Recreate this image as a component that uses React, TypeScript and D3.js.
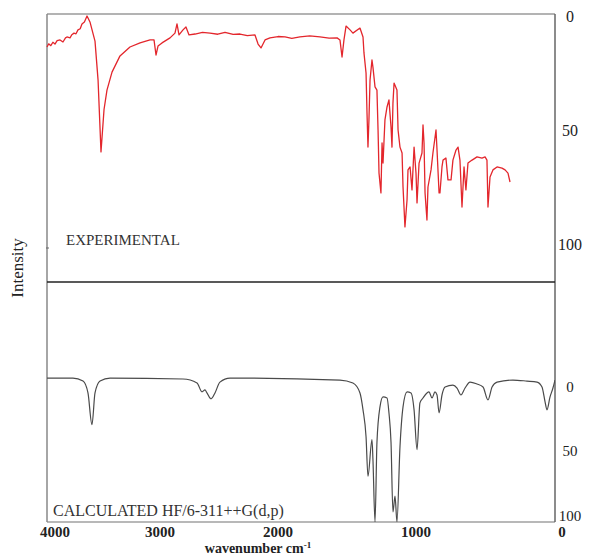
import React from "react";
import * as d3 from "d3";

// ---- data ----
const xTickValues = [4000, 3000, 2000, 1000, 0];
const expTickValues = [0, 50, 100];
const calcTickValues = [0, 50, 100];

const experimentalWavenumber = [
  4076, 4060, 4040, 4020, 4000, 3980, 3952, 3924, 3900, 3886, 3857, 3840, 3819, 3800, 3781, 3760, 3743, 3720, 3695,
  3667, 3619, 3590, 3562, 3533, 3505, 3457, 3381, 3286, 3190, 3095, 3057, 3038, 3019, 2983, 2915,
  2873, 2856, 2839, 2805, 2780, 2754, 2703, 2640, 2576, 2510, 2449, 2380, 2322, 2260, 2195, 2169, 2144,
  2110, 2068, 2000, 1949, 1900, 1841, 1770, 1696, 1630, 1572, 1551, 1536, 1522, 1507, 1478, 1457,
  1406, 1384, 1377, 1362, 1355, 1348, 1341, 1333, 1319, 1312, 1297, 1283, 1275, 1268, 1254, 1246,
  1239, 1225, 1210, 1196, 1181, 1174, 1167, 1159, 1138, 1130, 1116, 1101, 1094, 1080, 1065, 1058,
  1043, 1029, 1014, 1000, 993, 979, 959, 952, 945, 938, 925, 918, 897, 884, 863, 856, 842, 836,
  822, 815, 795, 781, 760, 747, 726, 712, 699, 685, 671, 658, 644, 616, 582, 548, 527, 514, 507,
  493, 473, 445, 411, 390, 370, 356,
];
const experimentalIntensity = [
  13.6, 12.2, 13.0, 11.5, 12.3, 10.8, 10.5, 11.4, 9.6, 9.2, 9.6, 8.2, 7.5, 7.8, 6.1, 5.6, 3.5, 2.6, 0,
  2.6, 11, 28, 59.6, 41, 32.5, 24.6, 17.5, 13.6, 11.8, 10.5, 10.5, 17.1, 13.2, 11.8, 9.6,
  7.5, 3.5, 8.3, 6.1, 4.8, 8.3, 7.9, 7.2, 7.5, 8.0, 7.2, 8.1, 7.9, 8.6, 8.3, 12.3, 14,
  10.5, 9.6, 9.0, 9.2, 9.8, 9.2, 8.7, 9.2, 9.7, 9.6, 10.5, 18, 10.5, 4.4, 6.1, 7.5,
  5.3, 9.2, 16.2, 25, 42.5, 57.5, 45.6, 28, 19.3, 22.4, 31.1, 32.5, 50, 68.9, 77.6, 55.7,
  64.5, 45.6, 39.9, 36.8, 48.7, 57.5, 38.2, 29.4, 32.5, 50, 57.5, 60.1, 75, 92.5, 80.7, 67.5,
  66.2, 76.3, 57.5, 68.9, 82, 64.5, 60.1, 47.8, 55.7, 77.6, 89.5, 75, 67.5, 60.1, 50, 58.8, 77.6, 77.6,
  66.2, 63.2, 62.3, 71.9, 71.9, 63.2, 58.8, 57.5, 63.2, 83.8, 66.2, 76.3, 64.5, 63.2, 61.8, 62.3, 61.8, 63.2, 83.8,
  70.6, 67.5, 66.2, 66.7, 67.5, 68.9, 72.8,
];

const calculatedWavenumber = [
  4076, 3829, 3733, 3686, 3648, 3619, 3571, 3476, 2805, 2686, 2644, 2619, 2602, 2568, 2534, 2492, 2407,
  1551, 1457, 1406, 1384, 1362, 1348, 1319, 1312, 1297, 1283, 1261, 1239, 1210, 1196, 1181, 1167,
  1152, 1138, 1116, 1094, 1065, 1036, 1014, 993, 973, 952, 925, 911, 890, 870, 856, 842, 822, 801,
  747, 719, 692, 664, 630, 582, 541, 507, 479, 445, 336, 240, 171, 137, 116, 103, 82, 62, 48,
];
const calculatedIntensity = [
  -6.9, -6.9, -4.6, 4.6, 29.2, 4.6, -4.6, -6.9, -6.2, -3.1, 3.8, 2.3, 4.6, 9.2, 4.6, -3.8, -6.9,
  -5.4, -3.1, 4.6, 17.7, 38.5, 69.2, 40.8, 56.2, 104.6, 43.1, 15.4, 7.7, 8.5, 20, 43.1, 96.9,
  84.6, 104.6, 46.2, 15.4, 3.8, 4.6, 17.7, 48.5, 12.3, 8.5, 4.6, 3.8, 8.5, 3.8, 6.2, 20, 6.2, 0,
  -1.5, 0.8, 6.2, 0.8, -3.8, -2.3, 0, 10, 0, -3.8, -5.4, -4.6, -3.8, 0, 11.5, 17.7, 7.7, 0.8, -5.4,
];

const panelLabels = ["EXPERIMENTAL", "CALCULATED HF/6-311++G(d,p)"];
const xAxisTitle = "wavenumber cm";
const yAxisTitle = "Intensity";

// ---- layout ----
const W = 591;
const H = 556;
const left = 47;
const right = 555;
const top = 14;
const mid = 282;
const bottom = 522;

const x = d3.scaleLinear().domain(xTickValues).range([55, 160, 278, 416, 562]);
const yExp = d3.scaleLinear().domain([0, 100]).range([16, 244]);
const yCalc = d3.scaleLinear().domain([0, 100]).range([387, 516]);

const expLine = d3
  .line<number>()
  .x((_, i) => x(experimentalWavenumber[i]))
  .y((d) => yExp(d));
const calcLine = d3
  .line<number>()
  .x((_, i) => x(calculatedWavenumber[i]))
  .y((d) => yCalc(d))
  .curve(d3.curveMonotoneX);

const serif = "'Liberation Serif', 'DejaVu Serif', serif";

export default function App() {
  return (
    <svg
      width={W}
      height={H}
      viewBox={`0 0 ${W} ${H}`}
      style={{ position: "absolute", left: 0, top: 0, background: "#fff" }}
    >
      <defs>
        <clipPath id="calcClip">
          <rect x={left} y={mid} width={right - left} height={bottom - mid} />
        </clipPath>
      </defs>
      {/* frame */}
      <line x1={left} x2={right} y1={top} y2={top} stroke="#9a9a9a" strokeWidth={1.5} />
      <line x1={left} x2={right} y1={bottom} y2={bottom} stroke="#a0a0a0" strokeWidth={1.5} />
      <line x1={left} x2={left} y1={top} y2={bottom} stroke="#888" strokeWidth={1.5} />
      <line x1={right} x2={right} y1={top} y2={bottom} stroke="#666" strokeWidth={1.5} />
      <line x1={left} x2={right} y1={mid} y2={mid} stroke="#222" strokeWidth={1.5} />
      <line x1={left - 1} x2={left + 2} y1={248} y2={248} stroke="#666" strokeWidth={1} />

      {/* spectra */}
      <path d={expLine(experimentalIntensity) || ""} fill="none" stroke="#e3262c" strokeWidth={1.3} strokeLinejoin="round" />
      <g clipPath="url(#calcClip)">
        <path d={calcLine(calculatedIntensity) || ""} fill="none" stroke="#4a4a4a" strokeWidth={1.2} strokeLinejoin="round" />
      </g>

      {/* right axis labels */}
      {expTickValues.map((t) => (
        <text key={"e" + t} x={570} y={yExp(t)} dy="0.35em" textAnchor="middle" fontFamily={serif} fontSize={16} fill="#222">
          {t}
        </text>
      ))}
      {calcTickValues.map((t) => (
        <text key={"c" + t} x={570} y={yCalc(t)} dy="0.3em" textAnchor="middle" fontFamily={serif} fontSize={15} fill="#222">
          {t}
        </text>
      ))}

      {/* x axis labels */}
      {xTickValues.map((t) => (
        <text key={"x" + t} x={x(t)} y={537} textAnchor="middle" fontFamily={serif} fontSize={15} fontWeight="bold" fill="#222">
          {t}
        </text>
      ))}
      <text x={258} y={553} textAnchor="middle" fontFamily={serif} fontSize={14} fontWeight="bold" fill="#222">
        {xAxisTitle}
        <tspan dy={-5} fontSize={9}>-1</tspan>
      </text>

      {/* y axis title */}
      <text
        transform="translate(23,268) rotate(-90)"
        textAnchor="middle"
        fontFamily={serif}
        fontSize={17}
        fill="#222"
      >
        {yAxisTitle}
      </text>

      {/* panel labels */}
      <text x={66} y={245} fontFamily={serif} fontSize={15} fill="#333">
        {panelLabels[0]}
      </text>
      <text x={53} y={516} fontFamily={serif} fontSize={16} fill="#333">
        {panelLabels[1]}
      </text>
    </svg>
  );
}
